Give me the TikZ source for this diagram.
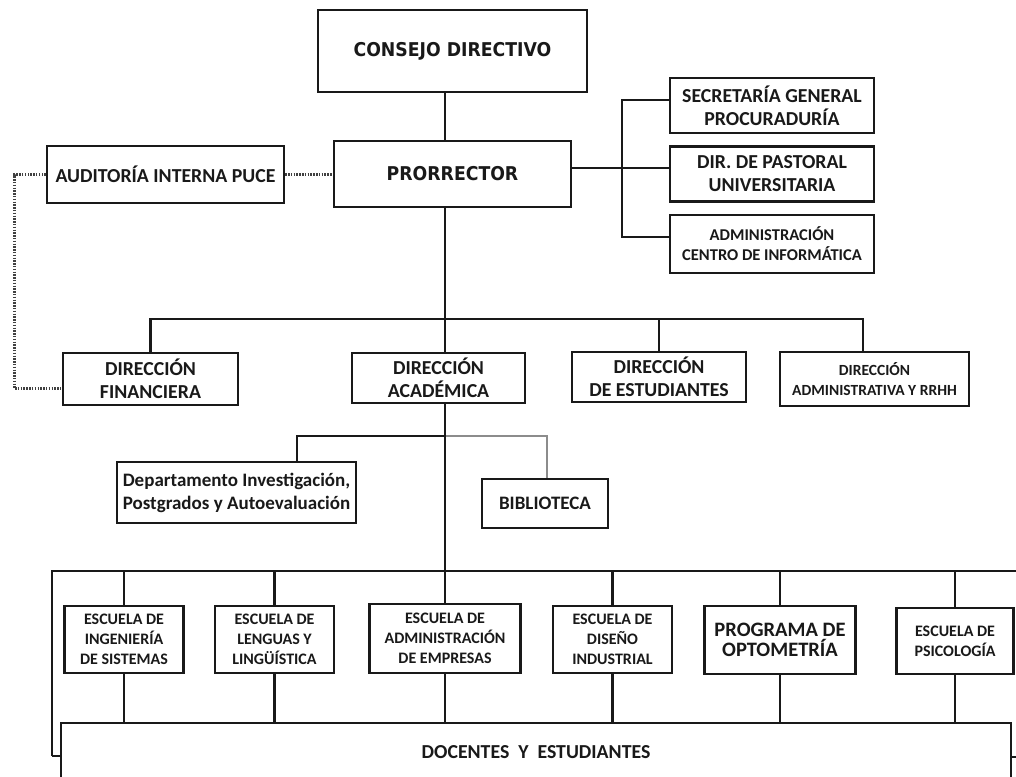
\documentclass[tikz,border=0pt]{standalone}
\usepackage{fontspec}
\setmainfont{Carlito}
\newfontfamily\headfont[FakeStretch=0.91]{DejaVu Sans}
\begin{document}
\begin{tikzpicture}[x=1pt,y=-1pt,
  box/.style={draw=black!90, line width=2.4pt, fill=white, inner sep=0pt,
    align=center, text=black!90, font=\bfseries\fontsize{19.8}{23}\selectfont},
  headbox/.style={box, font=\headfont\bfseries\fontsize{19}{22}\selectfont},
  smallbox/.style={box, font=\bfseries\fontsize{16.5}{20}\selectfont},
  school/.style={box, font=\bfseries\fontsize{16}{20}\selectfont},
  link/.style={draw=black!90, line width=2.6pt},
  softlink/.style={draw=black!45, line width=2.4pt},
  dotlink/.style={draw=black!75, line width=3pt, dash pattern=on 1.5pt off 1.3pt}
]
\useasboundingbox[fill=white] (0,0) rectangle (1016,776);

% reference columns for the connectors
\coordinate (spine) at (445,0);
\coordinate (dotx) at (14,0);
\coordinate (rspine) at (622,0);

% top level
\node[headbox, minimum width=269pt, minimum height=82pt] (consejo) at (452.5,51) {CONSEJO DIRECTIVO};
\node[headbox, minimum width=237pt, minimum height=66pt] (prorrector) at (452.5,174) {PRORRECTOR};
\node[box, minimum width=237pt, minimum height=57pt] (auditoria) at (165.5,174.5) {AUDITORÍA INTERNA PUCE};

% staff units on the right
\node[box, minimum width=204pt, minimum height=55pt] (secretaria) at (772,105.5) {SECRETARÍA GENERAL\\PROCURADURÍA};
\node[box, minimum width=204pt, minimum height=55pt] (pastoral) at (772,174) {DIR. DE PASTORAL\\UNIVERSITARIA};
\node[smallbox, minimum width=204pt, minimum height=58pt] (centro) at (772,244) {ADMINISTRACIÓN\\CENTRO DE INFORMÁTICA};

% directorates
\node[box, minimum width=175pt, minimum height=52pt] (financiera) at (150.5,379) {DIRECCIÓN\\FINANCIERA};
\node[box, minimum width=173pt, minimum height=50pt] (academica) at (438.5,378) {DIRECCIÓN\\ACADÉMICA};
\node[box, minimum width=174pt, minimum height=50pt] (estudiantes) at (659,377) {DIRECCIÓN\\DE ESTUDIANTES};
\node[box, font=\bfseries\fontsize{15.5}{20}\selectfont, minimum width=189pt, minimum height=54pt] (administrativa) at (874.5,379) {DIRECCIÓN\\ADMINISTRATIVA Y RRHH};

% academic support
\node[box, font=\bfseries\fontsize{19}{23}\selectfont, minimum width=239pt, minimum height=61pt] (dept) at (236.5,492.5) {Departamento Investigación,\\Postgrados y Autoevaluación};
\node[box, font=\bfseries\fontsize{19}{22}\selectfont, minimum width=126pt, minimum height=49pt] (biblioteca) at (545,503.5) {BIBLIOTECA};

% schools
\node[school, minimum width=119pt, minimum height=67pt] (sistemas) at (124,639.5) {ESCUELA DE\\INGENIERÍA\\DE SISTEMAS};
\node[school, minimum width=119pt, minimum height=67pt] (lenguas) at (274.5,639.5) {ESCUELA DE\\LENGUAS Y\\LINGÜÍSTICA};
\node[school, minimum width=151pt, minimum height=69pt] (adminemp) at (445,638.5) {ESCUELA DE\\ADMINISTRACIÓN\\DE EMPRESAS};
\node[school, minimum width=119pt, minimum height=67pt] (diseno) at (612.5,639.5) {ESCUELA DE\\DISEÑO\\INDUSTRIAL};
\node[box, font=\bfseries\fontsize{20.5}{19.5}\selectfont, minimum width=151pt, minimum height=68pt] (optometria) at (780,640) {PROGRAMA DE\\OPTOMETRÍA};
\node[school, minimum width=117pt, minimum height=66pt] (psicologia) at (955,641) {ESCUELA DE\\PSICOLOGÍA};

\node[box, minimum width=950pt, minimum height=58pt] (docentes) at (536,752) {DOCENTES\ \ Y\ \ ESTUDIANTES};

% line of authority
\draw[link] (consejo.south -| spine) -- (prorrector.north -| spine);
\draw[link] (prorrector.south -| spine) -- (academica.north -| spine);
\coordinate (barL) at (150.5,319);
\coordinate (barR) at (863,319);
\draw[link] (financiera.north) -- (barL) -- (barR) -- (barR |- administrativa.north);
\draw[link] (estudiantes.north) -- (estudiantes.north |- barL);

% staff branch
\draw[link] ([yshift=6pt]prorrector.east) -- ([yshift=6pt]pastoral.west);
\draw[link] ([yshift=5.5pt]secretaria.west) -| ([yshift=7pt]centro.west -| rspine) -- ([yshift=7pt]centro.west);

% advisory (dotted) links
\draw[dotlink] (auditoria.east) -- (auditoria.east -| prorrector.west);
\draw[dotlink] (auditoria.west) -- (auditoria.west -| dotx) |- ([yshift=-9pt]financiera.west);

% academic branch
\coordinate (subL) at (297,436);
\coordinate (subR) at (547,436);
\draw[link] (dept.north -| subL) -- (subL) -- (subL -| spine);
\draw[softlink] (subL -| spine) -- (subR) -- (subR |- biblioteca.north);
\coordinate (sbL) at (52,571);
\coordinate (sbR) at (1016,571);
\draw[link] (academica.south -| spine) -- (spine |- sbL);
\draw[link] ([yshift=-185pt]sbL) -- (sbL) -- (sbR);
\draw[link] ([yshift=-185pt]sbL) -- (docentes.west |- 0,756);
\draw[link] (docentes.east |- 0,757) -- (1016,757);
\foreach \s in {sistemas,lenguas,adminemp,diseno,optometria,psicologia}{
  \draw[link] (\s.north |- sbL) -- (\s.north);
  \draw[link] (\s.south) -- (\s.south |- docentes.north);
}
\end{tikzpicture}
\end{document}
